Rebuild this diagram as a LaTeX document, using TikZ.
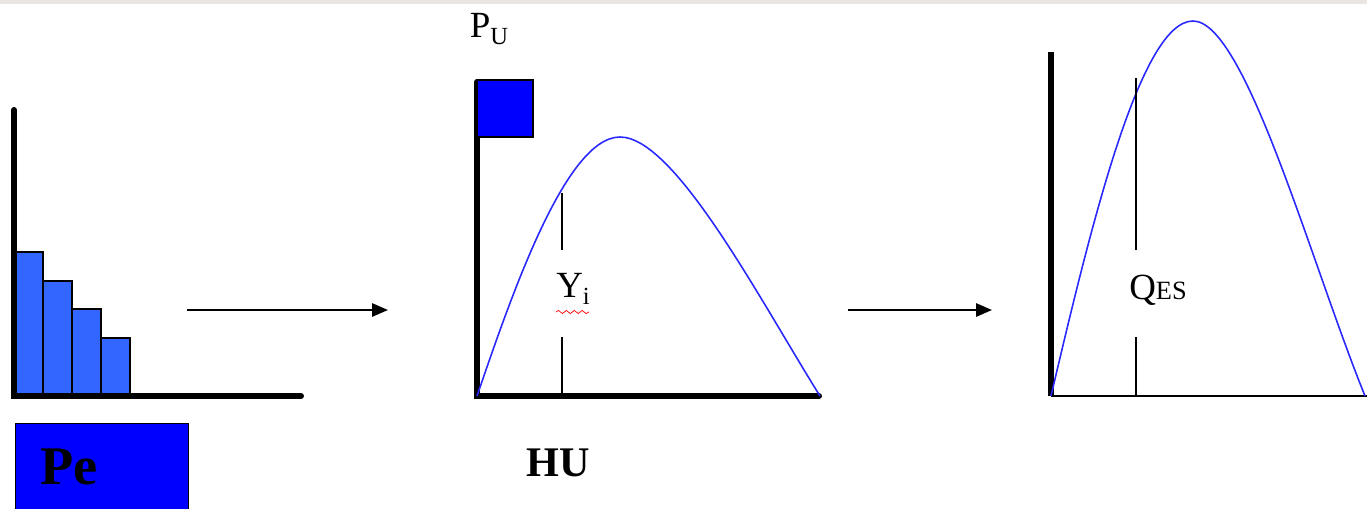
\documentclass[tikz,border=0pt]{standalone}
\usepackage{fontspec}
\setmainfont{Liberation Serif}
\usepackage{tikz}
\usetikzlibrary{arrows.meta,positioning,decorations.pathmorphing}
\definecolor{barblue}{RGB}{51,102,255}
\definecolor{boxblue}{RGB}{0,0,255}
\definecolor{curveblue}{RGB}{40,40,255}
\definecolor{topgray}{RGB}{233,229,224}

\begin{document}
\begin{tikzpicture}[x=0.02cm, y=-0.02cm, >={Triangle[length=9pt, width=7.5pt]},
  axis/.style={line width=3.4pt, line cap=round},
  thinaxis/.style={line width=1.1pt},
  bar/.style={draw, fill=barblue, line width=0.6pt},
  hydro/.style={curveblue, line width=0.9pt},
  mark line/.style={line width=0.8pt},
  flow/.style={->, line width=1.1pt},
  lbl/.style={inner sep=0pt, font=\fontsize{21}{24}\selectfont}]
\useasboundingbox (0,0) rectangle (1367,508);
\fill[topgray] (0,0) rectangle (1367,4);
% precipitation
\foreach \xl/\xr/\yt in {15/43/252, 43/72/281, 72/101/309, 101/130/338}
  \draw[bar] (\xl,395) rectangle (\xr,\yt);
\draw[axis] (14,110) -- (14,396) -- (301,396);
\node[draw, fill=boxblue, line width=0.6pt, minimum width=173*0.02cm, minimum height=90*0.02cm,
  anchor=north west, inner sep=0pt] (pe) at (15,423) {};
\node[inner sep=0pt, font=\fontsize{31}{33}\selectfont\bfseries] (petxt) at (69,467) {Pe};
% unit hydrograph
\coordinate (a1s) at (187,310);
\coordinate (a1e) at (388,310);
\draw[flow] (a1s) -- (a1e);
\draw[axis] (477,82) -- (477,396) -- (819,396);
\draw[fill=boxblue, line width=0.6pt] (477,80) rectangle (533,137);
\node[lbl] (pu) at (489,29) {P\raisebox{-0.4ex}{\fontsize{14}{16}\selectfont U}};
\draw[hydro] (477,396) .. controls (510,300) and (565,137) .. (620,137)
  .. controls (675,137) and (760,300) .. (820,396);
\draw[mark line] (562,193) -- (562,250) (562,337) -- (562,396);
\node[lbl] (yi) at (573,289) {Y\raisebox{-0.45ex}{\fontsize{14}{16}\selectfont i}};
\draw[red, line width=0.4pt, decorate, decoration={snake, amplitude=0.9, segment length=4.5}]
  (556,312) -- (589,312);
\node[inner sep=0pt, font=\fontsize{24}{26}\selectfont\bfseries] (hu) at (558,463) {HU};
% flood hydrograph
\coordinate (a2s) at (848,310);
\coordinate (a2e) at (992,310);
\draw[flow] (a2s) -- (a2e);
\draw[axis, line cap=butt] (1051,52) -- (1051,396);
\draw[thinaxis] (1051,396) -- (1367,396);
\draw[hydro] (1051,396) .. controls (1090,230) and (1140,21) .. (1193,21)
  .. controls (1245,21) and (1310,260) .. (1365,396);
\draw[mark line] (1136,78) -- (1136,250) (1136,337) -- (1136,396);
\node[lbl] (qes) at (1158,290) {Q{\fontsize{15}{17}\selectfont ES}};
\end{tikzpicture}
\end{document}
